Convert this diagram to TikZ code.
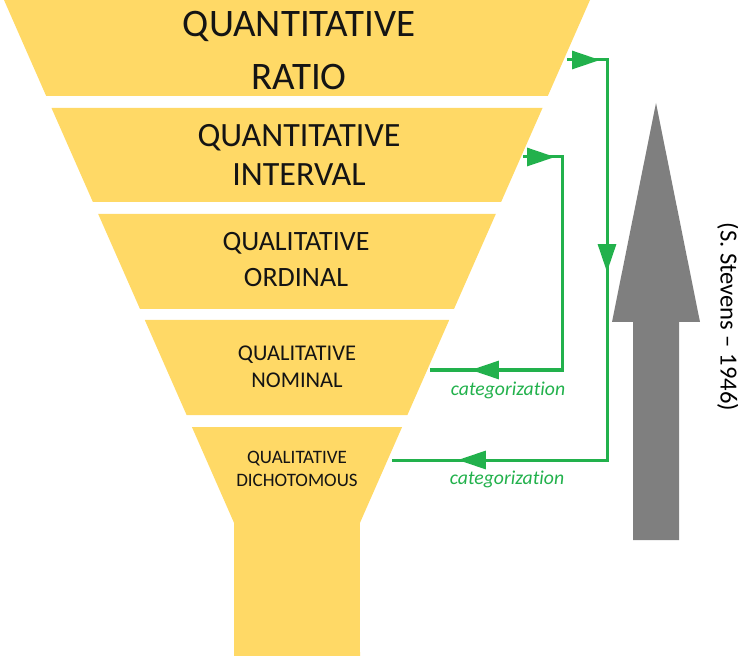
\documentclass[tikz,border=0pt]{standalone}
\usepackage{fontspec}
\setmainfont{Carlito}[Ligatures=NoCommon]
\definecolor{funnelyellow}{RGB}{255, 217, 102}
\definecolor{catgreen}{RGB}{34, 177, 76}
\definecolor{scalegray}{RGB}{127, 127, 127}
\definecolor{inkblack}{RGB}{20, 20, 20}
\usetikzlibrary{arrows.meta, decorations.markings, positioning}
\tikzset{
  cattip/.tip={Triangle[length=0.7cm, width=0.45cm]},
  band/.style={fill=funnelyellow, draw=none},
  bandlabel/.style={anchor=south, inner sep=0pt, text depth=0pt, align=center, text=inkblack},
  catlink/.style={draw=catgreen, line width=0.075cm, postaction={decorate}},
  catlabel/.style={anchor=base, inner sep=0pt, text=catgreen, font=\itshape\fontsize{14}{16}\selectfont}
}

\begin{document}
\begin{tikzpicture}[x=0.025cm, y=-0.025cm]
  \useasboundingbox (0,0) rectangle (738,656);

  % Funnel
  \fill[band] (4,0) -- (590,0) -- (547.8,96) -- (46.2,96) -- cycle;
  \fill[band] (51.5,108) -- (542.5,108) -- (501.1,202) -- (92.9,202) -- cycle;
  \fill[band] (98.2,214) -- (495.8,214) -- (454,309) -- (140,309) -- cycle;
  \fill[band] (144.8,320) -- (449.2,320) -- (407.4,415) -- (186.6,415) -- cycle;
  \fill[band] (191.9,427) -- (402.1,427) -- (359.9,523) -- (360,656) -- (234,656) -- (234.1,523) -- cycle;

  \node[bandlabel, font=\fontsize{27.7}{37.7}\selectfont] (ratio) at (299,90) {QUANTITATIVE\\RATIO};
  \node[bandlabel, font=\fontsize{24.2}{27.7}\selectfont] (interval) at (299,186) {QUANTITATIVE\\INTERVAL};
  \node[bandlabel, font=\fontsize{19.9}{25.6}\selectfont] (ordinal) at (296,287) {QUALITATIVE\\ORDINAL};
  \node[bandlabel, font=\fontsize{16}{19.2}\selectfont] (nominal) at (297,388) {QUALITATIVE\\NOMINAL};
  \node[bandlabel, font=\fontsize{13.5}{16.4}\selectfont] (dichotomous) at (297,487) {QUALITATIVE\\DICHOTOMOUS};

  % Categorization links
  \coordinate (ratio-out) at (567,60);
  \coordinate (interval-out) at (523,157);
  \coordinate (nominal-in) at (430,370);
  \coordinate (dichotomous-in) at (392,460);

  \draw[catlink, decoration={markings,
      mark=at position 0.825cm with {\arrow{cattip}},
      mark=at position 6.3cm with {\arrow{cattip}},
      mark=at position 14.725cm with {\arrow{cattip}}}]
    (ratio-out) -- (607,60) -- (607,460) -- (dichotomous-in);
  \draw[catlink, decoration={markings,
      mark=at position 0.8cm with {\arrow{cattip}},
      mark=at position 8.575cm with {\arrow{cattip}}}]
    (interval-out) -- (562,157) -- (562,370) -- (nominal-in);

  \node[catlabel] (cat1) at (508,395) {categorization};
  \node[catlabel] (cat2) at (507,484) {categorization};

  % Scale arrow
  \fill[scalegray] (656,103) -- (700,322) -- (679,322) -- (679,540) -- (633,540) -- (633,322) -- (612,322) -- cycle;
  \node[rotate=-90, inner sep=0pt, font=\fontsize{17.5}{20}\selectfont] (stevens) at (728,317) {(S. Stevens -- 1946)};
\end{tikzpicture}
\end{document}
